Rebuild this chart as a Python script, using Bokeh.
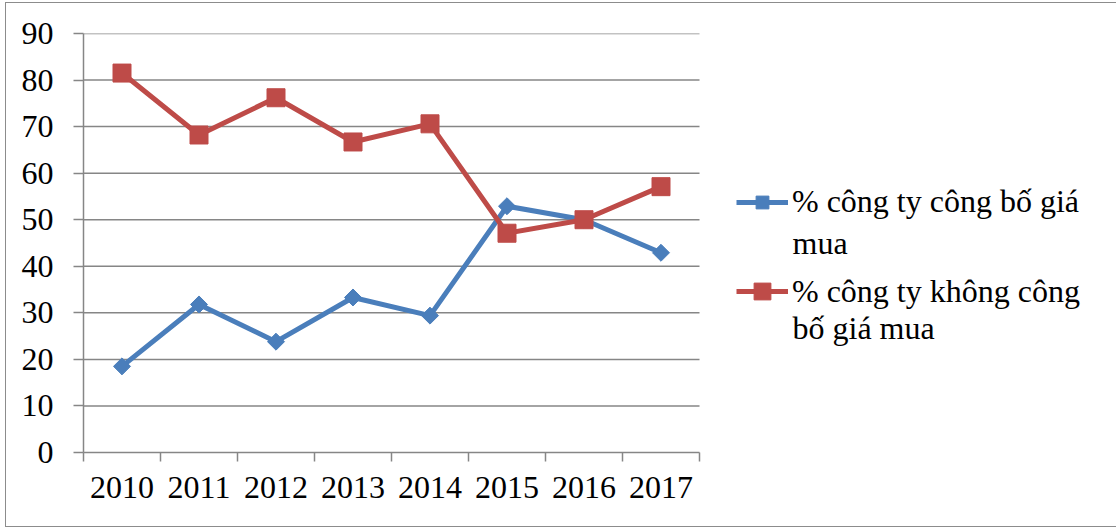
import numpy as np
from bokeh.plotting import figure
from bokeh.models import Range1d, FixedTicker, Legend, LegendItem, Label
from bokeh.embed import file_html
from bokeh.resources import INLINE

# Share of companies disclosing / not disclosing the purchase price (%)
years = ["2010", "2011", "2012", "2013", "2014", "2015", "2016", "2017"]
disclosed = [18.5, 31.8, 23.8, 33.3, 29.4, 52.9, 50.0, 42.9]
not_disclosed = [81.5, 68.2, 76.2, 66.7, 70.6, 47.1, 50.0, 57.1]
y_ticks = [0, 10, 20, 30, 40, 50, 60, 70, 80, 90]

legend_first = ["% công ty công bố giá", "% công ty không công"]
legend_second = ["mua", "bố giá mua"]

BLUE = "#4A7EBB"
RED = "#BE4B48"
GRID = "#868686"
FONT = "'Liberation Serif', serif"
FS = "32px"
W, H = 1116, 529

# frame geometry (canvas pixels); the frame runs to the right edge so the
# legend can sit inside it, while the category area stays CAT_W wide
LEFT, TOP, BOTTOM = 83, 33, 452
CAT_W = 616
FRAME_W = W - LEFT

n = len(years)
x = np.arange(n) + 0.5
x_end = n * FRAME_W / CAT_W

p = figure(width=W, height=H, output_backend="svg", toolbar_location=None,
           x_range=Range1d(0, x_end), y_range=Range1d(0, y_ticks[-1]),
           min_border_left=LEFT, min_border_right=0, min_border_top=TOP,
           min_border_bottom=H - BOTTOM)
p.outline_line_color = None
p.background_fill_color = "white"
p.border_fill_color = "white"

# thin frame around the whole chart (open on the right, as it runs off the page)
p.stylesheets = [
    ":host { position: relative; }"
    ":host::after { content: ''; position: absolute; left: 5px; top: 2px;"
    " right: 0px; bottom: 2px; border: 1.5px solid #8c8c8c;"
    " border-right: none; pointer-events: none; z-index: 100; }"
]


def to_data_x(px):
    return (px - LEFT) / CAT_W * n


def to_data_y(py):
    return (BOTTOM - py) / (BOTTOM - TOP) * y_ticks[-1]


# category axis: labels centred, ticks on category boundaries
p.xaxis.bounds = (0, n)
p.xaxis.ticker = FixedTicker(ticks=list(x), minor_ticks=list(range(n + 1)))
p.xaxis.major_label_overrides = {float(xi): yr for xi, yr in zip(x, years)}
p.xaxis.major_tick_line_color = None
p.xaxis.minor_tick_line_color = GRID
p.xaxis.minor_tick_line_width = 1.5
p.xaxis.minor_tick_out = 9
p.xaxis.minor_tick_in = 0
p.xaxis.major_label_standoff = 15

p.yaxis.ticker = FixedTicker(ticks=y_ticks)
p.yaxis.major_tick_out = 10
p.yaxis.major_tick_in = 0
p.yaxis.major_tick_line_color = GRID
p.yaxis.major_tick_line_width = 1.5
p.yaxis.minor_tick_line_color = None
p.yaxis.major_label_standoff = 20

for ax in (p.xaxis, p.yaxis):
    ax.axis_line_color = GRID
    ax.axis_line_width = 1.5
    ax.major_label_text_font = FONT
    ax.major_label_text_font_size = FS
    ax.major_label_text_color = "black"

# horizontal gridlines limited to the category area
p.grid.grid_line_color = None
grid_y = y_ticks[1:]
p.segment(x0=[0] * len(grid_y), x1=[n] * len(grid_y), y0=grid_y, y1=grid_y,
          line_color=GRID, line_width=1.5)

r1 = p.line(x, disclosed, line_color=BLUE, line_width=5)
m1 = p.scatter(x, disclosed, marker="square", angle=np.pi / 4, size=12,
               fill_color=BLUE, line_color=BLUE)
r2 = p.line(x, not_disclosed, line_color=RED, line_width=5)
m2 = p.scatter(x, not_disclosed, marker="square", size=18,
               fill_color=RED, line_color=RED)

legend_style = dict(glyph_width=52, label_standoff=4, padding=0, margin=0,
                    border_line_color=None, background_fill_alpha=0,
                    label_text_font=FONT, label_text_font_size=FS,
                    label_text_color="black", label_height=30)
leg1 = Legend(items=[LegendItem(label=legend_first[0], renderers=[r1, m1])],
              location=(736 - LEFT, BOTTOM - 204 - 16), glyph_height=32,
              **legend_style)
leg2 = Legend(items=[LegendItem(label=legend_first[1], renderers=[r2, m2])],
              location=(736 - LEFT, BOTTOM - 291 - 21), glyph_height=42,
              **legend_style)
p.add_layout(leg1)
p.add_layout(leg2)

for txt, base in zip(legend_second, [242, 327]):
    p.add_layout(Label(x=to_data_x(792), y=to_data_y(base), text=txt,
                       text_font=FONT, text_font_size=FS,
                       text_color="black", text_baseline="alphabetic"))

open("out.html", "w").write(file_html(p, INLINE))
